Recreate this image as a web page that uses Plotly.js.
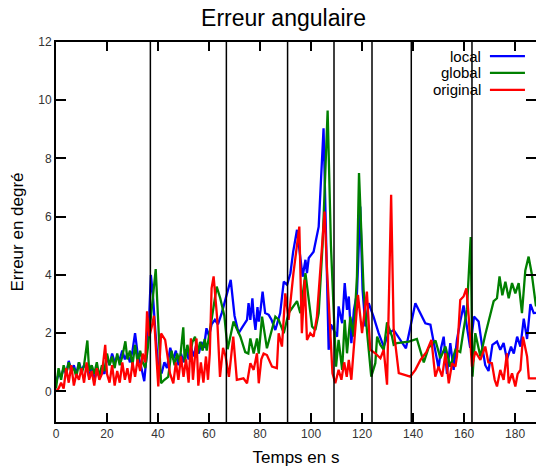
<!DOCTYPE html>
<html><head><meta charset="utf-8">
<script src="https://cdn.plot.ly/plotly-3.0.1.min.js"></script>
<style>html,body{margin:0;padding:0;background:#fff}#chart{width:536px;height:470px}</style>
</head><body><div id="chart"></div>
<script>
// local
const tLocal = [0,1,2,3,4,5,6,7,8,9,10,11,12,13,14,15,16,17,18,19,20,21,22,23,24,25,26,27,28,29,30,31,32,33,34,34.6,35.5,36.5,37.2,38,39,40,41.4,42.5,43.5,44.8,46,47,48,49,50,51,52,53,54,55,56,57,58,59,60,61,62.3,63.5,65,66.5,68.5,70,71.6,73,74.9,75.5,76.2,77,77.5,78.2,79,79.5,80.2,81,82,83.4,84.5,86,87.9,89.3,90.6,91.9,93,94.5,95.8,96.7,97.8,98.4,99.1,101,103,104.9,106.9,107.8,108.9,110.2,110.8,112.2,113.2,114.1,114.8,115.8,116.8,118,119.3,120.2,121.3,122.6,124.5,126.5,128.5,130.4,132.4,135,137.2,140.9,144.8,146.8,148.7,150,151,152,153.3,154.6,155.9,157.2,158.5,159.8,161.1,162.4,163.9,165.7,167,168.3,169.6,171.1,172.9,174.2,175.5,176.8,178.4,179.5,180.8,182.1,183.4,184.7,186,187.3,188.2];
const errLocal = [0.3,0.6,0.5,0.8,0.6,1.05,0.7,0.9,0.6,1.0,0.7,0.9,0.8,0.5,0.9,0.4,0.7,0.5,0.8,0.6,1.2,0.9,1.3,1.0,1.2,1.1,1.4,1.1,1.3,1.0,1.4,2.0,1.3,1.0,0.6,0.35,1.2,2.5,4.0,3.3,2.0,0.9,0.62,1.0,0.8,1.5,1.1,1.4,0.9,1.3,1.0,1.45,1.1,1.5,1.2,1.6,1.3,1.7,1.5,2.17,1.9,2.3,2.46,2.3,2.7,3.2,3.83,2.6,2.0,2.2,2.46,3.03,2.46,3.2,2.6,2.11,2.9,2.4,2.8,3.43,2.69,2.63,2.46,2.11,2.69,3.77,3.66,4.06,4.8,5.55,4.52,3.94,4.52,4.06,4.58,4.8,5.66,9.04,1.43,2.3,2.11,1.88,2.92,2.34,3.72,2.8,3.26,1.66,2.8,3.37,6.35,3.49,2.23,3.03,2.57,2.0,1.54,2.0,2.11,1.77,1.48,3.03,2.34,2.29,1.43,0.8,1.5,1.88,0.6,1.66,0.74,1.77,2.4,2.95,2.23,1.5,2.57,2.4,1.6,0.9,0.7,1.6,1.71,1.43,1.66,1.1,1.54,1.3,1.88,1.54,2.5,1.8,3.0,2.69,2.7];
// global
const tGlobal = [0,1,2,3,4,5,6,7,8,9,10,11,12.3,13,14,15,16,17,18,19,20,21,22,23,24,25,26,27.2,28,29,30,31,32,33,34,35,36,37.6,39.1,41.2,42.5,44,45.3,46.5,47.5,48.5,49.9,50.5,51.5,52.5,53.5,54.5,55.5,56.5,57.5,58.3,59.1,61,63,64.4,66,67.3,69.6,72.3,74.2,75.4,76.2,77.5,78.8,79.5,80.8,82.7,86,87.3,89.3,91.2,94.5,95.8,97.8,100.4,101.7,103,104.5,106.5,107.8,109.8,110.8,112.2,113.2,114.1,115.4,116.7,118,118.8,120.6,122,123.6,125.2,125.9,127.2,128.5,129.8,131.7,132.4,133.7,138.3,141.5,144.2,146.1,148.8,150.7,152.7,154.6,156.6,158.5,159.8,161.1,162.6,163.3,164.4,166.4,168.3,171.6,172.9,173.9,175,176.2,177.5,178.8,180.1,181.4,182.7,184,185.3,186.5,188.2];
const errGlobal = [0.1,0.8,0.4,0.9,0.6,1.0,0.7,0.8,0.5,1.0,0.6,0.9,1.75,0.7,0.9,0.6,1.0,0.5,0.9,0.7,1.3,0.9,1.2,0.8,1.3,0.9,1.2,1.72,1.1,1.4,0.9,1.6,1.0,1.4,1.0,0.8,1.5,3.0,4.2,0.28,0.4,0.5,1.4,0.9,1.3,1.0,2.2,1.0,1.6,1.2,1.7,1.88,1.3,1.7,1.4,1.8,1.4,2.46,3.6,3.2,2.6,1.45,2.4,1.88,1.35,1.3,1.82,1.3,1.82,1.3,2.57,1.48,2.57,2.46,2.0,2.69,3.1,2.69,4.06,2.23,2.11,2.69,5.0,9.65,5.0,0.85,1.77,0.74,2.46,1.31,2.57,1.88,3.95,7.5,3.49,2.0,0.51,0.97,1.88,1.6,1.43,2.37,1.9,1.6,1.66,1.71,1.8,1.0,1.5,1.75,1.14,1.54,0.85,1.43,1.35,2.11,2.8,5.3,0.51,2.0,1.2,1.95,3.1,3.2,3.95,3.3,3.77,3.2,3.72,3.37,3.72,2.69,4.15,4.63,4.06,2.92];
// original
const tOriginal = [0,1,2,3,4,5,6,7,8,9,10,11,12,13,14,15,16,17,18,19.3,20,21,22,23,24,25,26,27,28,29,30,31,32,33,34,35,35.7,36.6,37.5,38.4,40.1,41.2,42.8,44.7,46,47,48,49,50,51,52,52.9,53.7,55.1,55.8,56.8,57.8,58.8,59.6,60.3,61,61.8,63.2,64.3,65.5,66.5,67.8,69.5,70.9,73.5,74.9,76.2,77.5,78.8,79.5,80.5,81.4,82.7,84.7,86.6,87.3,88.6,89.9,91.2,93.1,95.4,96.4,97.5,98.4,99.7,101,102.3,105.3,106.2,108.4,109.5,110.8,111.9,113,114,114.8,115.8,116.7,118.4,120,121.9,123.2,125.2,127.2,128.5,129.8,131.4,132.4,134.4,138.9,140.9,142.9,145.2,147.2,148.7,150,151.4,152.7,154,155.3,156.6,157.2,158.5,159.8,160.9,161.8,163.1,164.4,166.4,168.3,169.5,170.9,172,172.9,174.2,175.5,176.8,177.5,178.8,180.1,181,182.1,183.1,184.7,185.4,188.2];
const errOriginal = [0.0,0.1,0.3,0.1,0.8,0.3,0.9,0.2,0.6,0.4,0.8,0.3,1.0,0.4,0.7,0.2,0.8,0.4,0.6,1.6,0.6,0.3,0.9,0.2,0.7,0.3,1.0,0.4,0.8,0.3,1.0,0.5,1.1,0.7,1.3,1.0,2.75,1.9,2.2,2.6,0.17,1.99,1.77,0.62,0.28,1.0,0.4,1.2,0.5,1.1,0.3,1.82,0.4,1.82,0.2,1.0,0.3,1.2,0.4,1.3,3.54,3.95,2.5,0.5,1.5,1.2,0.5,1.88,0.4,0.45,0.28,0.97,0.74,1.31,0.28,1.1,1.3,1.25,0.85,0.8,2.0,1.54,3.37,2.46,4.06,5.66,2.0,3.83,1.77,2.0,1.88,2.57,6.18,4.29,0.62,0.28,0.74,0.4,1.0,0.5,1.08,0.4,1.43,3.32,2.0,3.43,1.43,1.31,1.14,1.43,0.23,6.75,2.11,0.63,0.51,0.74,1.08,1.35,1.77,0.51,0.85,0.51,1.31,0.28,0.97,0.85,1.2,3.14,3.26,3.54,2.57,0.85,1.37,1.08,1.54,1.0,0.97,0.4,0.17,0.74,0.4,1.31,0.28,0.62,0.17,0.6,0.74,1.88,1.2,0.45,0.45];
// phase boundaries (s)
const boundaries = [37, 66.8, 90.8, 109, 123.9, 139.3, 163.1];
const seriesNames = ['local','global','original'];
const seriesColors = ['#0000ff','#008000','#ff0000'];
const xTicks = [0,20,40,60,80,100,120,140,160,180];
const yTicks = [0,2,4,6,8,10,12];

const xs = [tLocal, tGlobal, tOriginal];
const ys = [errLocal, errGlobal, errOriginal];
const traces = seriesNames.map((n,i)=>({
  x: xs[i], y: ys[i], name: n, type:'scatter', mode:'lines',
  line:{color:seriesColors[i], width:2.3}, showlegend:false
}));

const shapes = boundaries.map(b=>({type:'line', xref:'x', yref:'paper', x0:b, x1:b, y0:0, y1:1, line:{color:'#000', width:1.5}, layer:'above'}));
const legY = [0.963, 0.9185, 0.874];
const annotations = [];
seriesNames.forEach((n,i)=>{
  shapes.push({type:'line', xref:'paper', yref:'paper', x0:0.904, x1:0.977, y0:legY[i], y1:legY[i], line:{color:seriesColors[i], width:2.3}});
  annotations.push({xref:'paper', yref:'paper', x:0.888, y:legY[i], xanchor:'right', yanchor:'middle', borderpad:0, text:n, showarrow:false, font:{family:'Liberation Sans, Arial, sans-serif', size:15, color:'#000'}});
});

const axisCommon = {showline:true, linecolor:'#000', linewidth:2, mirror:'ticks', ticks:'inside', tickcolor:'#000', tickwidth:2, showgrid:false, zeroline:false, tickfont:{family:'Liberation Sans, Arial, sans-serif', size:12, color:'#333'}};
const layout = {
  width:536, height:470,
  margin:{l:56, r:0, t:42, b:48},
  paper_bgcolor:'#fff', plot_bgcolor:'#fff',
  title:{text:'Erreur angulaire', x:0.529, xref:'container', xanchor:'center', y:0.962, yref:'container', yanchor:'middle', font:{family:'Liberation Sans, Arial, sans-serif', size:23, color:'#000'}},
  xaxis:Object.assign({}, axisCommon, {range:[0,188.2], tickvals:xTicks, ticklen:9, title:{text:'Temps en s', standoff:11, font:{family:'Liberation Sans, Arial, sans-serif', size:17, color:'#000'}}}),
  yaxis:Object.assign({}, axisCommon, {range:[-1.05,12], tickvals:yTicks, ticklen:10, title:{text:'Erreur en degré', standoff:10, font:{family:'Liberation Sans, Arial, sans-serif', size:17, color:'#000'}}}),
  shapes:shapes, annotations:annotations
};
Plotly.newPlot('chart', traces, layout, {displayModeBar:false, staticPlot:true});
</script></body></html>
